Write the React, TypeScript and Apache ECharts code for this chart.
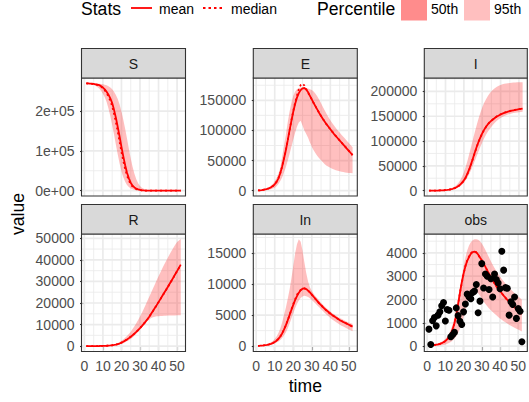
import React, { useEffect, useRef } from "react";
import * as echarts from "echarts";

// ---------- data ----------
const weeks = [1,2,3,4,5,6,7,8,9,10,11,12,13,14,15,16,17,18,19,20,21,22,23,24,25,26,27,28,29,30,31,32,33,34,35,36,37,38,39,40,41,42,43,44,45,46,47,48,49,50,51,52];

const sMean = [269500,269300,269000,268600,268000,267200,266200,265000,262500,259000,
  254500,248500,241000,232000,220000,203000,183000,160000,136000,110000,
  86000,64000,45000,31000,20000,12500,8000,5000,3000,1700,
  900,500,250,120,60,30,15,8,4,2,
  1,0,0,0,0,0,0,0,0,0,0,0];
const sMedian = [269400,269200,268800,268300,267600,266700,265500,263900,261200,257400,
  252000,245000,236500,226000,212000,193500,172000,148500,123000,97500,
  74500,54500,38000,25500,16200,10200,6400,4000,2300,1300,
  700,370,180,90,40,20,10,5,0,0,
  0,0,0,0,0,0,0,0,0,0,0,0];
const sLo95 = [268700,268100,267500,266400,265300,263400,260200,256700,251200,243600,
  234800,222600,206400,187000,164600,140800,115200,90800,68400,48800,
  33800,22200,14000,8900,5600,3400,1900,1000,580,300,
  150,70,30,10,0,0,0,0,0,0,
  0,0,0,0,0,0,0,0,0,0,0,0];
const sHi95 = [269500,269500,269500,269500,269400,269000,268900,268500,267800,267000,
  266000,264600,262300,258800,254800,248400,240200,230400,216600,199000,
  178400,155200,130800,105200,81600,60200,42200,28800,18500,11600,
  7400,4600,2700,1500,800,420,220,100,50,20,
  0,0,0,0,0,0,0,0,0,0,0,0];

const eMean = [300,600,1000,1500,2100,2900,4000,5500,7600,10500,
  14500,20500,29000,40000,53000,67000,83000,100000,116000,131000,
  144000,154500,162000,167000,170000,170500,168000,163500,157500,151500,
  145500,140000,134500,129000,124000,119000,114500,110000,106000,102000,
  98000,94000,90500,87000,83500,80000,76500,73000,69500,66000,
  62500,59000];
const eMedian = [300,600,1000,1500,2100,2900,4000,5500,7600,10500,
  14500,20500,29000,40000,53000,67000,83000,100000,116500,132000,
  146000,158000,168000,175500,178000,174500,168500,162500,157000,151500,
  145500,140000,134500,129000,124000,119000,114500,110000,106000,102000,
  98000,94000,90500,87000,83500,80000,76500,73000,69500,66000,
  62500,59000];
const eLo95 = [0,100,250,450,700,1100,1700,2500,3500,5000,
  7500,11000,16000,22000,30000,39000,49500,61000,73000,85000,
  96000,106000,113000,116000,108000,100000,94000,88000,80000,73000,
  67000,62000,57500,54000,50500,47000,44000,41500,39500,38000,
  36500,35200,34000,33000,32200,31500,30800,30300,29900,29500,
  29200,29000];
const eHi95 = [500,900,1400,2100,3000,4300,6000,8500,11500,15500,
  21000,28000,37500,56000,74000,93000,113000,131000,146000,157000,
  164500,168500,170500,171500,171500,171000,170500,169500,168500,167000,
  164500,161000,156500,151000,145000,139000,133000,127500,122000,117000,
  112500,108000,104000,100000,96500,93000,89500,86000,82500,79000,
  75500,72000];

const iMean = [0,50,100,150,220,300,420,580,800,1100,
  1500,2050,2800,3800,5100,6900,9200,12200,16000,20800,
  26600,35000,44000,54500,66000,77500,88500,98500,107500,115500,
  122500,128500,133500,137500,141000,144000,147000,149500,151600,153500,
  155200,156700,158000,159200,160300,161200,162000,162800,163500,164200,
  164800,165400];
const iMedian = [0,40,90,140,200,280,390,540,750,1050,
  1450,2000,2750,3750,5000,6800,9000,12000,15700,20400,
  26000,34200,43200,53800,65300,77000,88000,98200,107300,115400,
  122400,128500,133600,137700,141300,144400,147400,149900,152000,153900,
  155600,157000,158300,159400,160500,161400,162200,163000,163700,164400,
  165000,165600];
const iLo95 = [0,0,50,100,150,200,300,400,550,750,
  1000,1400,1900,2600,3600,4900,6700,9000,12000,16000,
  21000,27000,34000,42000,51000,60500,70000,79500,88500,97000,
  105000,112000,118500,124000,129000,133500,137500,141000,144000,146500,
  148500,150500,152000,153300,154500,155500,156300,157000,157600,158100,
  158500,158900];
const iHi95 = [0,50,100,200,300,450,650,900,1300,1800,
  2500,3400,4600,6200,8400,11500,15500,21000,28000,37000,
  48000,61000,75000,89500,104000,118500,132500,145500,157000,167500,
  176500,184000,190500,196000,200500,204000,207000,209500,211500,213000,
  214300,215300,216100,216700,217200,217600,217900,218100,218300,218400,
  218500,218500];

const rMean = [0,0,0,0,10,20,30,45,65,90,
  125,170,230,300,400,530,700,920,1200,1600,
  2050,2550,3100,3700,4350,5050,5800,6600,7450,8350,
  9300,10300,11350,12450,13600,15000,16300,17650,19000,20400,
  21800,23200,24600,26000,27450,28900,30350,31800,33300,34800,
  36300,37800];
const rMedian = [0,0,0,0,10,20,30,45,60,85,
  120,165,225,295,395,525,690,910,1190,1580,
  2030,2530,3080,3680,4330,5030,5780,6580,7430,8330,
  9280,10300,11350,12450,13600,14950,16250,17600,18950,20350,
  21750,23150,24550,25950,27400,28850,30300,31750,33250,34750,
  36250,37750];
const rLo95 = [0,0,0,0,0,10,15,25,35,50,
  70,100,140,190,260,350,470,620,820,1070,
  1380,1750,2200,2700,3300,4000,4800,5700,6700,7700,
  8700,9700,10700,11600,12400,13000,13400,13650,13800,13900,
  13950,14000,14050,14100,14150,14200,14200,14250,14250,14300,
  14300,14300];
const rHi95 = [0,0,0,0,10,20,40,60,90,130,
  180,250,340,460,620,830,1100,1450,1900,2450,
  3100,3850,4700,5650,6700,7900,9200,10600,12100,13700,
  15400,17200,19100,21000,22900,24800,26700,28600,30500,32400,
  34200,36000,37700,39400,41000,42600,44100,45600,47000,48300,
  49000,49700];

const inMean = [50,70,100,130,170,220,290,380,500,660,
  880,1170,1550,2050,2650,3350,4150,5000,5850,6650,
  7400,8050,8600,9000,9250,9300,9200,8950,8650,8300,
  7950,7600,7250,6900,6600,6300,6000,5750,5500,5250,
  5000,4800,4600,4400,4200,4050,3900,3750,3600,3450,
  3300,3150];
const inMedian = [50,70,100,130,170,220,290,380,500,660,
  880,1170,1550,2050,2650,3350,4150,5000,5900,6750,
  7550,8250,8800,9050,9250,9300,9200,8950,8650,8300,
  7950,7600,7250,6900,6600,6300,6000,5700,5450,5200,
  5000,4800,4600,4400,4200,4050,3900,3750,3600,3450,
  3300,3150];
const inLo95 = [40,55,75,100,130,165,210,270,350,450,
  580,760,1000,1300,1700,2200,2850,3600,4450,5300,
  6100,6800,7350,7750,8000,8100,8050,7900,7700,7450,
  7150,6850,6550,6250,5950,5650,5350,5050,4800,4550,
  4300,4100,3900,3700,3500,3300,3150,3000,2850,2700,
  2550,2400];
const inHi95 = [60,90,130,180,250,340,460,620,840,1150,
  1550,2100,2850,3800,5000,6200,7600,9100,10900,12900,
  14900,16400,17200,16800,15400,13500,11800,10400,9500,8900,
  8450,8050,7700,7350,7000,6700,6400,6100,5850,5600,
  5350,5150,4950,4750,4550,4400,4250,4100,3950,3800,
  3700,3600];

const obsMean = [20,30,40,50,65,80,100,130,170,220,
  290,390,530,720,980,1320,1800,2280,2720,3100,
  3420,3660,3820,3960,4030,4050,4020,3930,3800,3680,
  3540,3400,3250,3100,2960,2830,2700,2580,2470,2370,
  2270,2170,2080,1990,1910,1830,1750,1670,1590,1520,
  1450,1380];
const obsMedian = [20,30,40,50,60,75,95,125,165,215,
  285,385,525,715,975,1310,1790,2270,2710,3100,
  3430,3680,3850,3990,4050,4060,4020,3920,3790,3670,
  3530,3390,3240,3090,2950,2820,2690,2570,2460,2360,
  2260,2160,2070,1980,1900,1820,1740,1660,1580,1510,
  1440,1370];
const obsLo95 = [0,0,5,10,15,20,30,40,55,75,
  100,135,180,240,320,420,560,740,970,1250,
  1550,1850,2100,2280,2380,2400,2360,2270,2160,2040,
  1920,1810,1710,1620,1540,1460,1390,1320,1250,1190,
  1130,1070,1020,970,920,880,830,790,750,710,
  670,630];
const obsHi95 = [30,45,60,75,95,120,150,190,240,310,
  400,530,700,930,1230,1600,2030,2500,2980,3420,
  3800,4100,4320,4460,4540,4580,4580,4560,4500,4400,
  4270,4120,3960,3800,3640,3490,3350,3220,3100,2990,
  2880,2780,2690,2600,2510,2430,2350,2270,2200,2130,
  2060,1990];
const obsPoints = [730,70,1090,1230,870,1330,1470,1730,1870,1080,
  1570,1540,400,490,590,1640,1310,1070,930,1470,
  1810,2230,2110,2030,2300,2360,2640,1430,1930,3540,
  2490,3090,3000,2430,2890,2110,3090,2860,2710,2460,
  4070,3260,2510,2480,1330,1900,1790,2110,1190,1610,
  1500,190];

const panelNames = ["S", "E", "I", "R", "In", "obs"];
const xTicks = [0, 10, 20, 30, 40, 50];
const xMinor = [5, 15, 25, 35, 45];
const sTicks = [0, 100000, 200000];
const sTickLabels = ["0e+00", "1e+05", "2e+05"];
const sMinor = [50000, 150000, 250000];
const eTicks = [0, 50000, 100000, 150000];
const eMinor = [25000, 75000, 125000, 175000];
const iTicks = [0, 50000, 100000, 150000, 200000];
const iMinor = [25000, 75000, 125000, 175000, 225000];
const rTicks = [0, 10000, 20000, 30000, 40000, 50000];
const rMinor = [5000, 15000, 25000, 35000, 45000];
const inTicks = [0, 5000, 10000, 15000];
const inMinor = [2500, 7500, 12500, 17500];
const obsTicks = [0, 1000, 2000, 3000, 4000];
const obsMinor = [500, 1500, 2500, 3500, 4500];

const legendStats = ["mean", "median"];
const legendPercentile = ["50th", "95th"];

// ---------- layout / style ----------
const FONT = "'Liberation Sans', Arial, Helvetica, sans-serif";
const colLeft = [81.5, 253.3, 424.3];
const colWidth = [104, 104, 103];
const rowTop = [78, 234];
const rowHeight = [118, 117.5];
const stripH = 29.5;
const X_MIN = -1.55;
const X_MAX = 54.55;
const RED = "#FF0000";

type Panel = {
  title: string; mean: number[]; median: number[]; lo: number[]; hi: number[];
  ticks: number[]; labels?: string[]; minor: number[]; yMin: number; yMax: number; points?: number[];
};

const panels: Panel[] = [
  { title: panelNames[0], mean: sMean, median: sMedian, lo: sLo95, hi: sHi95, ticks: sTicks, labels: sTickLabels, minor: sMinor, yMin: -13475, yMax: 282975 },
  { title: panelNames[1], mean: eMean, median: eMedian, lo: eLo95, hi: eHi95, ticks: eTicks, minor: eMinor, yMin: -8900, yMax: 187100 },
  { title: panelNames[2], mean: iMean, median: iMedian, lo: iLo95, hi: iHi95, ticks: iTicks, minor: iMinor, yMin: -10800, yMax: 227100 },
  { title: panelNames[3], mean: rMean, median: rMedian, lo: rLo95, hi: rHi95, ticks: rTicks, minor: rMinor, yMin: -2500, yMax: 52000 },
  { title: panelNames[4], mean: inMean, median: inMedian, lo: inLo95, hi: inHi95, ticks: inTicks, minor: inMinor, yMin: -860, yMax: 18060 },
  { title: panelNames[5], mean: obsMean, median: obsMedian, lo: obsLo95, hi: obsHi95, ticks: obsTicks, minor: obsMinor, yMin: -229, yMax: 4809, points: obsPoints },
];

function buildOption() {
  const grid: any[] = [];
  const xAxis: any[] = [];
  const yAxis: any[] = [];
  const series: any[] = [];
  const graphic: any[] = [];

  panels.forEach((p, i) => {
    const col = i % 3;
    const row = Math.floor(i / 3);
    const left = colLeft[col];
    const top = rowTop[row];
    const w = colWidth[col];
    const h = rowHeight[row];
    grid.push({ left, top, width: w, height: h, show: false, containLabel: false });

    const bottomRow = row === 1;
    xAxis.push({
      type: "value", gridIndex: i, min: X_MIN, max: X_MAX,
      axisLine: { show: false }, splitLine: { show: false },
      axisTick: { show: bottomRow, length: 4.4, lineStyle: { color: "#333333", width: 1.1 }, customValues: xTicks },
      axisLabel: { show: bottomRow, customValues: xTicks, margin: 7, fontSize: 14, color: "#4D4D4D", fontFamily: FONT },
    });
    const labelMap: Record<string, string> = {};
    p.ticks.forEach((t, k) => { labelMap[String(t)] = p.labels ? p.labels[k] : String(t); });
    yAxis.push({
      type: "value", gridIndex: i, min: p.yMin, max: p.yMax,
      axisLine: { show: false }, splitLine: { show: false },
      axisTick: { show: true, length: 4.4, lineStyle: { color: "#333333", width: 1.1 }, customValues: p.ticks },
      axisLabel: {
        customValues: p.ticks, margin: 7, fontSize: 14, color: "#4D4D4D", fontFamily: FONT,
        formatter: (v: number) => labelMap[String(v)] ?? String(v),
      },
    });

    // panel grid lines
    series.push({
      type: "custom", xAxisIndex: i, yAxisIndex: i, silent: true, z: 1,
      data: [[0, 0]], encode: { x: 0, y: 1 },
      renderItem: (params: any, api: any) => {
        const children: any[] = [];
        const addV = (v: number, lw: number) => {
          const a = api.coord([v, p.yMin]); const b = api.coord([v, p.yMax]);
          children.push({ type: "line", shape: { x1: a[0], y1: a[1], x2: b[0], y2: b[1] }, style: { stroke: "#EBEBEB", lineWidth: lw } });
        };
        const addH = (v: number, lw: number) => {
          const a = api.coord([X_MIN, v]); const b = api.coord([X_MAX, v]);
          children.push({ type: "line", shape: { x1: a[0], y1: a[1], x2: b[0], y2: b[1] }, style: { stroke: "#EBEBEB", lineWidth: lw } });
        };
        xMinor.forEach((v) => addV(v, 0.85));
        p.minor.forEach((v) => addH(v, 0.85));
        xTicks.forEach((v) => addV(v, 1.7));
        p.ticks.forEach((v) => addH(v, 1.7));
        return { type: "group", children };
      },
    });

    // 95th ribbon
    series.push({
      type: "custom", xAxisIndex: i, yAxisIndex: i, silent: true, z: 2,
      data: weeks.map((t, k) => [t, p.lo[k], p.hi[k]]), encode: { x: 0, y: [1, 2] },
      renderItem: (params: any, api: any) => {
        if (params.dataIndex !== 0) return null;
        const pts: number[][] = [];
        weeks.forEach((t, k) => pts.push(api.coord([t, p.hi[k]])));
        for (let k = weeks.length - 1; k >= 0; k--) pts.push(api.coord([weeks[k], p.lo[k]]));
        return { type: "polygon", shape: { points: pts }, style: { fill: "rgba(255,0,0,0.25)" } };
      },
    });

    series.push({
      type: "line", name: "mean", xAxisIndex: i, yAxisIndex: i, z: 3,
      data: weeks.map((t, k) => [t, p.mean[k]]), symbol: "none", showSymbol: false,
      lineStyle: { color: RED, width: 1.8 },
    });
    series.push({
      type: "line", name: "median", xAxisIndex: i, yAxisIndex: i, z: 3,
      data: weeks.map((t, k) => [t, p.median[k]]), symbol: "none", showSymbol: false,
      lineStyle: { color: RED, width: 1.8, type: [2, 3] },
    });
    if (p.points) {
      series.push({
        type: "scatter", xAxisIndex: i, yAxisIndex: i, z: 4,
        data: weeks.map((t, k) => [t, p.points![k]]), symbolSize: 7,
        itemStyle: { color: "#000000", opacity: 1 },
      });
    }

    // panel border & strip
    graphic.push({ type: "rect", z: 100, shape: { x: left, y: top, width: w, height: h }, style: { fill: "none", stroke: "#333333", lineWidth: 1.1 } });
    const sTop = top - stripH;
    graphic.push({ type: "rect", z: 100, shape: { x: left, y: sTop, width: w, height: stripH }, style: { fill: "#D9D9D9", stroke: "#333333", lineWidth: 1.1 } });
    graphic.push({ type: "text", z: 101, x: left + w / 2, y: sTop + stripH / 2 + 0.5, style: { text: p.title, align: "center", verticalAlign: "middle", fontSize: 14, fill: "#1A1A1A", fontFamily: FONT } });
  });

  // legend
  const t = (text: string, x: number, y: number, size: number) => ({ type: "text", z: 101, x, y, style: { text, align: "left", verticalAlign: "middle", fontSize: size, fill: "#000000", fontFamily: FONT } });
  graphic.push(t("Stats", 81, 9, 17.6));
  graphic.push({ type: "line", z: 101, shape: { x1: 131, y1: 8, x2: 152, y2: 8 }, style: { stroke: RED, lineWidth: 1.8 } });
  graphic.push(t(legendStats[0], 159, 8.5, 14));
  graphic.push({ type: "line", z: 101, shape: { x1: 203, y1: 8, x2: 225, y2: 8 }, style: { stroke: RED, lineWidth: 1.8, lineDash: [2.5, 3] } });
  graphic.push(t(legendStats[1], 231, 8.5, 14));
  graphic.push(t("Percentile", 317, 9, 17.6));
  graphic.push({ type: "rect", z: 101, shape: { x: 401, y: -6, width: 26, height: 26.5 }, style: { fill: "#FF8C8C" } });
  graphic.push(t(legendPercentile[0], 431, 8.5, 14));
  graphic.push({ type: "rect", z: 101, shape: { x: 464, y: -6, width: 26, height: 26.5 }, style: { fill: "#FFBFBF" } });
  graphic.push(t(legendPercentile[1], 494, 8.5, 14));

  // axis titles
  graphic.push({ type: "text", z: 101, x: 305.3, y: 386, style: { text: "time", align: "center", verticalAlign: "middle", fontSize: 17.6, fill: "#000000", fontFamily: FONT } });
  graphic.push({ type: "text", z: 101, x: 17.5, y: 214, rotation: Math.PI / 2, style: { text: "value", align: "center", verticalAlign: "middle", fontSize: 17.6, fill: "#000000", fontFamily: FONT } });

  return {
    animation: false,
    backgroundColor: "#FFFFFF",
    textStyle: { fontFamily: FONT },
    grid, xAxis, yAxis, series, graphic,
  };
}

export default function App() {
  const ref = useRef<HTMLDivElement>(null);
  useEffect(() => {
    if (!ref.current) return;
    const chart = echarts.init(ref.current, undefined, { renderer: "svg" });
    chart.setOption(buildOption() as any);
    return () => chart.dispose();
  }, []);
  return <div ref={ref} style={{ position: "fixed", left: 0, top: 0, width: 529, height: 402 }} />;
}
